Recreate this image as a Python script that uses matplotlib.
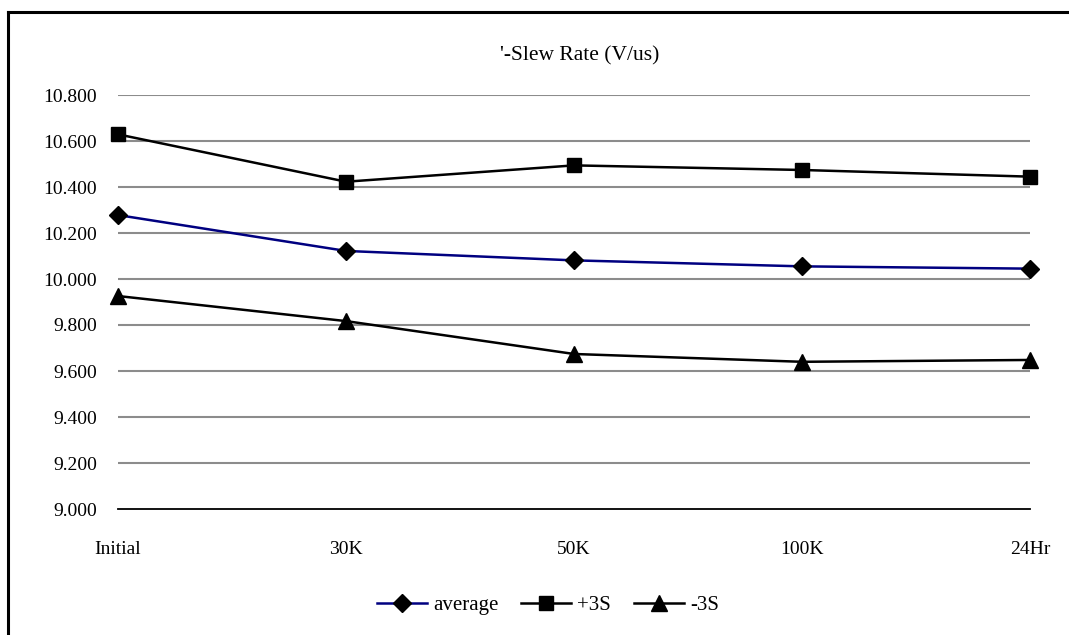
import matplotlib.pyplot as plt
from matplotlib.lines import Line2D

# chart data
stages = ['Initial', '30K', '50K', '100K', '24Hr']
average = [10.278, 10.122, 10.081, 10.055, 10.045]
plus_3s = [10.629, 10.423, 10.494, 10.474, 10.445]
minus_3s = [9.926, 9.817, 9.674, 9.640, 9.648]
y_ticks = [9.0, 9.2, 9.4, 9.6, 9.8, 10.0, 10.2, 10.4, 10.6, 10.8]

plt.rcParams['font.family'] = ['Liberation Serif', 'DejaVu Serif']

fig = plt.figure(figsize=(10.69, 6.35), dpi=100)
ax = fig.add_axes([118 / 1069, 1 - 509 / 635, 912 / 1069, 414 / 635])

x = list(range(len(stages)))
ax.plot(x, average, color='#000080', lw=1.8, marker='D', ms=9,
        mfc='black', mec='black', label='average', zorder=3, clip_on=False)
ax.plot(x, plus_3s, color='black', lw=1.8, marker='s', ms=10.5,
        mfc='black', mec='black', label='+3S', zorder=3, clip_on=False)
ax.plot(x, minus_3s, color='black', lw=1.8, marker='^', ms=11,
        mfc='black', mec='black', label='-3S', zorder=3, clip_on=False)

ax.set_xlim(0, len(stages) - 1)
ax.set_ylim(9.0, 10.8)
ax.set_yticks(y_ticks)
ax.set_yticklabels([f'{v:.3f}' for v in y_ticks])
ax.set_xticks(x)
ax.set_xticklabels(stages)
ax.tick_params(length=0, labelsize=14, pad=0)
ax.tick_params(axis='y', pad=15)
ax.tick_params(axis='x', pad=23)

# gridlines
for v in y_ticks[1:]:
    ax.axhline(v, color='#8c8c8c', lw=1.5, zorder=1)
for s in ['left', 'right', 'top']:
    ax.spines[s].set_visible(False)
ax.spines['bottom'].set_linewidth(1.3)
ax.spines['bottom'].set_color('black')

fig.text(0.542, 1 - 56 / 635, "'-Slew Rate (V/us)", ha='center', va='center', fontsize=15.5)

handles = [
    Line2D([], [], color='#000080', lw=1.8, marker='D', ms=9, mfc='black', mec='black'),
    Line2D([], [], color='black', lw=1.8, marker='s', ms=10.5, mfc='black', mec='black'),
    Line2D([], [], color='black', lw=1.8, marker='^', ms=11, mfc='black', mec='black'),
]
fig.legend(handles, ['average', '+3S', '-3S'], loc='center',
           bbox_to_anchor=(548 / 1069, 1 - 605 / 635), ncol=3, frameon=False,
           fontsize=15, handlelength=2.4, handletextpad=0.3, columnspacing=1.1)

# chart border (top and left edges visible)
fig.add_artist(Line2D([8 / 1069, 1.0], [1 - 12 / 635] * 2, color='black', lw=2.2))
fig.add_artist(Line2D([8 / 1069] * 2, [0.0, 1 - 12 / 635], color='black', lw=2.2))

fig.savefig('out.png', dpi=100)
